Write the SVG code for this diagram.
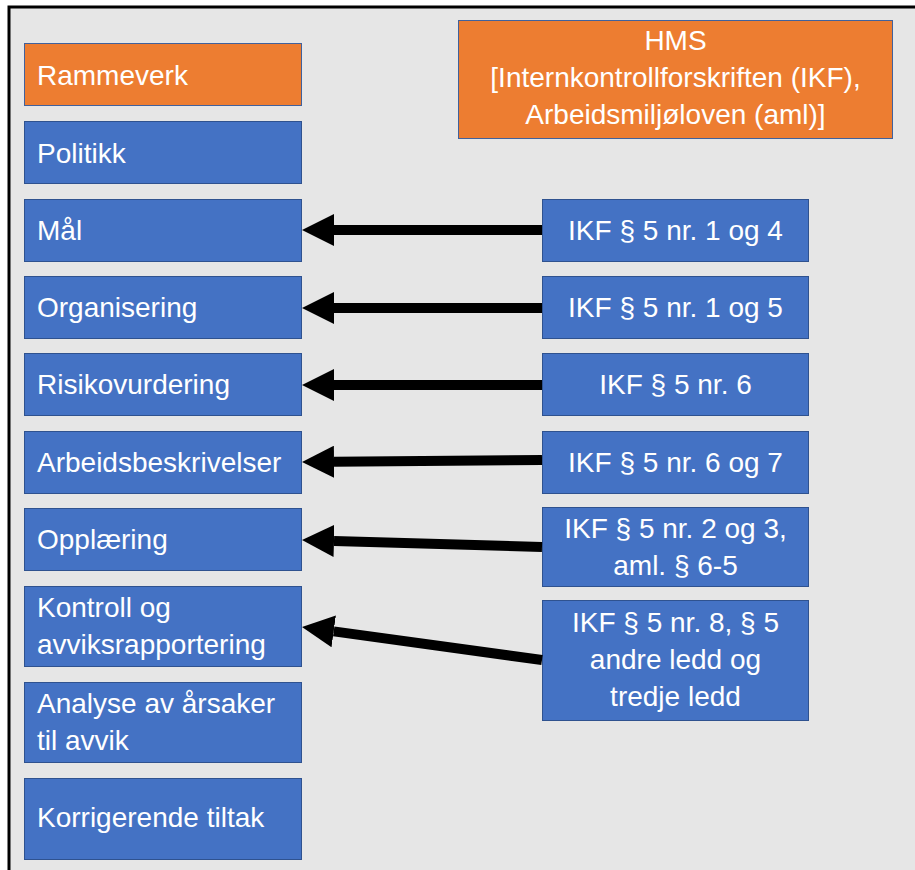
<svg xmlns="http://www.w3.org/2000/svg" width="915" height="870" viewBox="0 0 915 870">
  <style>
    .frame { fill: #e6e6e6; stroke: #000; stroke-width: 3; }
    .orange { fill: #ed7d31; stroke: #41619c; stroke-width: 1; }
    .blue { fill: #4472c4; stroke: #2f528f; stroke-width: 1; }
    .lbl { font-family: "Liberation Sans", Arial, sans-serif; font-size: 28px; fill: #fff; }
    .mid { text-anchor: middle; }
    .conn { stroke: #000; stroke-width: 10; fill: none; marker-end: url(#head); }
  </style>
  <defs>
    <marker id="head" viewBox="0 0 3.2 3.2" refX="0" refY="1.6" markerWidth="3.2" markerHeight="3.2" orient="auto" markerUnits="strokeWidth">
      <path d="M0,0 L3.2,1.6 L0,3.2 Z" fill="#000"/>
    </marker>
  </defs>

  <rect width="915" height="870" fill="#fff"/>
  <rect class="frame" x="9" y="7" width="920" height="880"/>

  <!-- left column: management system elements -->
  <g id="rammeverk">
    <rect class="orange" x="24.5" y="43.5" width="277" height="62"/>
    <text class="lbl" x="37" y="85">Rammeverk</text>
  </g>
  <g id="politikk">
    <rect class="blue" x="24.5" y="121.5" width="277" height="62"/>
    <text class="lbl" x="37" y="163">Politikk</text>
  </g>
  <g id="maal">
    <rect class="blue" x="24.5" y="199.5" width="277" height="62"/>
    <text class="lbl" x="37" y="240">Mål</text>
  </g>
  <g id="organisering">
    <rect class="blue" x="24.5" y="276.5" width="277" height="62"/>
    <text class="lbl" x="37" y="317">Organisering</text>
  </g>
  <g id="risikovurdering">
    <rect class="blue" x="24.5" y="353.5" width="277" height="62"/>
    <text class="lbl" x="37" y="394">Risikovurdering</text>
  </g>
  <g id="arbeidsbeskrivelser">
    <rect class="blue" x="24.5" y="431.5" width="277" height="62"/>
    <text class="lbl" x="37" y="472">Arbeidsbeskrivelser</text>
  </g>
  <g id="opplaering">
    <rect class="blue" x="24.5" y="508.5" width="277" height="62"/>
    <text class="lbl" x="37" y="549">Opplæring</text>
  </g>
  <g id="kontroll">
    <rect class="blue" x="24.5" y="586.5" width="277" height="80"/>
    <text class="lbl" x="37" y="617">Kontroll og</text>
    <text class="lbl" x="37" y="654">avviksrapportering</text>
  </g>
  <g id="analyse">
    <rect class="blue" x="24.5" y="682.5" width="277" height="80"/>
    <text class="lbl" x="37" y="713">Analyse av årsaker</text>
    <text class="lbl" x="37" y="750">til avvik</text>
  </g>
  <g id="korrigerende">
    <rect class="blue" x="24.5" y="778.5" width="277" height="81"/>
    <text class="lbl" x="37" y="827">Korrigerende tiltak</text>
  </g>

  <!-- legal basis header -->
  <g id="hms">
    <rect class="orange" x="458.5" y="20.5" width="434" height="118"/>
    <text class="lbl mid" x="675.5" y="50">HMS</text>
    <text class="lbl mid" x="675.5" y="87">[Internkontrollforskriften (IKF),</text>
    <text class="lbl mid" x="675.5" y="124">Arbeidsmiljøloven (aml)]</text>
  </g>

  <!-- right column: regulation references -->
  <g id="ref-maal">
    <rect class="blue" x="542.5" y="199.5" width="266" height="62"/>
    <text class="lbl mid" x="675.5" y="240">IKF § 5 nr. 1 og 4</text>
  </g>
  <g id="ref-organisering">
    <rect class="blue" x="542.5" y="276.5" width="266" height="62"/>
    <text class="lbl mid" x="675.5" y="317">IKF § 5 nr. 1 og 5</text>
  </g>
  <g id="ref-risikovurdering">
    <rect class="blue" x="542.5" y="353.5" width="266" height="62"/>
    <text class="lbl mid" x="675.5" y="394">IKF § 5 nr. 6</text>
  </g>
  <g id="ref-arbeidsbeskrivelser">
    <rect class="blue" x="542.5" y="431.5" width="266" height="62"/>
    <text class="lbl mid" x="675.5" y="472">IKF § 5 nr. 6 og 7</text>
  </g>
  <g id="ref-opplaering">
    <rect class="blue" x="542.5" y="507.5" width="266" height="79"/>
    <text class="lbl mid" x="675.5" y="538">IKF § 5 nr. 2 og 3,</text>
    <text class="lbl mid" x="675.5" y="575">aml. § 6-5</text>
  </g>
  <g id="ref-kontroll">
    <rect class="blue" x="542.5" y="600.5" width="266" height="120"/>
    <text class="lbl mid" x="675.5" y="632">IKF § 5 nr. 8, § 5</text>
    <text class="lbl mid" x="675.5" y="669">andre ledd og</text>
    <text class="lbl mid" x="675.5" y="706">tredje ledd</text>
  </g>

  <!-- connectors: regulation -> element -->
  <g id="connectors">
    <line class="conn" x1="542" y1="230" x2="334" y2="230"/>
    <line class="conn" x1="542" y1="308" x2="334" y2="308"/>
    <line class="conn" x1="542" y1="385" x2="334" y2="385"/>
    <line class="conn" x1="542" y1="460" x2="334" y2="461.7"/>
    <line class="conn" x1="542" y1="547" x2="334" y2="540.9"/>
    <line class="conn" x1="542" y1="660" x2="333.7" y2="631.4"/>
  </g>
</svg>
